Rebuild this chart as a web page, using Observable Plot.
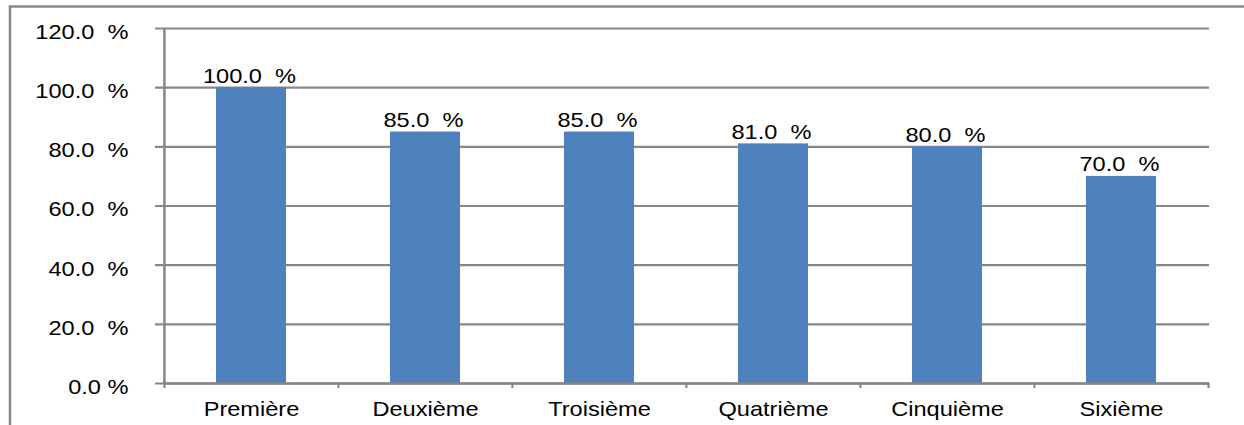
<!DOCTYPE html>
<html>
<head>
<meta charset="utf-8">
<script src="https://cdn.jsdelivr.net/npm/d3@7"></script>
<script src="https://cdn.jsdelivr.net/npm/@observablehq/plot@0.6"></script>
<style>
  html, body { margin: 0; padding: 0; background: #fff; }
  svg text { white-space: pre; }
</style>
</head>
<body>
<div id="chart"></div>
<script>
const categories = ["Première", "Deuxième", "Troisième", "Quatrième", "Cinquième", "Sixième"];
const values = [100.0, 85.0, 85.0, 81.0, 80.0, 70.0];
const yTicks = [0, 20, 40, 60, 80, 100, 120];

const data = categories.map((c, i) => ({cat: c, value: values[i]}));
const fmtTick = v => v === 0 ? "0.0 %" : v.toFixed(1) + "  %";
const fmtLabel = v => v.toFixed(1) + "  %";

const W = 1244, H = 425;
const mL = 164, mR = 35, mT = 28, mB = 42;
const step = (W - mL - mR) / categories.length;
const grey = "#878787";
const pad = 0.595;
const stretch = 1.18;

const chart = Plot.plot({
  width: W,
  height: H,
  marginLeft: mL,
  marginRight: mR,
  marginTop: mT,
  marginBottom: mB,
  style: {fontFamily: "'Liberation Sans', Arial, sans-serif", fontSize: "20px", color: "#000", background: "#fff"},
  x: {domain: categories, paddingInner: pad, paddingOuter: pad / 2, label: null},
  y: {domain: [0, 120], label: null},
  marks: [
    Plot.frame({stroke: grey, strokeWidth: 2.5, insetLeft: -(mL - 9.5), insetTop: -(mT - 6), insetRight: -60, insetBottom: -80}),
    Plot.gridY(yTicks, {stroke: grey, strokeOpacity: 1, strokeWidth: 2.2, insetLeft: -9}),
    Plot.barY(data, {x: "cat", y: "value", fill: "#4F81BD"}),
    Plot.ruleX([categories[0]], {x: d => d, y1: 0, y2: 120, stroke: grey, strokeWidth: 2.5, dx: -step / 2}),
    Plot.ruleY([0], {stroke: grey, strokeWidth: 2.5}),
    Plot.ruleX(categories, {x: d => d, y1: 0, y2: -1.7, stroke: grey, strokeWidth: 2.2, dx: -step / 2}),
    Plot.ruleX([categories[categories.length - 1]], {x: d => d, y1: 0, y2: -1.7, stroke: grey, strokeWidth: 2.2, dx: step / 2}),
    Plot.axisY(yTicks, {tickSize: 0, tickPadding: 36, tickFormat: fmtTick, dy: 4, fontSize: 20}),
    Plot.axisX({tickSize: 0, tickPadding: 18, fontSize: 20}),
    Plot.text(data, {x: "cat", y: "value", text: d => fmtLabel(d.value), lineAnchor: "bottom", dy: -5, dx: -2, fontSize: 20, fill: "#000"})
  ]
});
document.getElementById("chart").appendChild(chart);

// Widen glyphs horizontally (reference text is horizontally stretched)
d3.select(chart).selectAll("text").each(function() {
  const bb = this.getBBox();
  const anchor = getComputedStyle(this).textAnchor;
  let cx = bb.x;
  if (anchor === "middle") cx = bb.x + bb.width / 2;
  else if (anchor === "end") cx = bb.x + bb.width;
  const prev = this.getAttribute("transform") || "";
  this.setAttribute("transform", `${prev} translate(${cx},0) scale(${stretch},1) translate(${-cx},0)`.trim());
});
</script>
</body>
</html>
